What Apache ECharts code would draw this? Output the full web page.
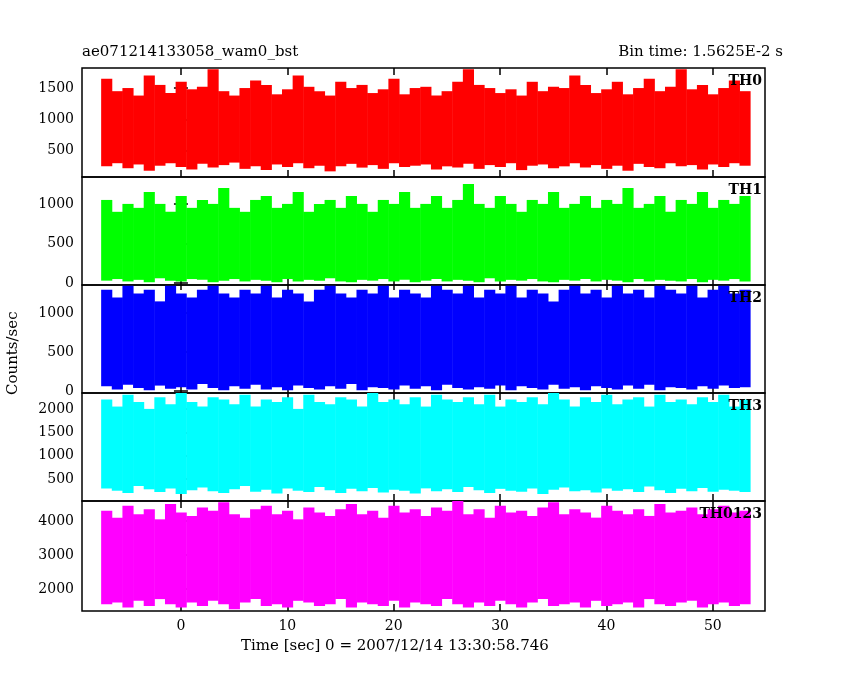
<!DOCTYPE html>
<html><head><meta charset="utf-8">
<script src="https://cdn.jsdelivr.net/npm/echarts@6/dist/echarts.min.js"></script>
<style>html,body{margin:0;background:#fff}#c{width:850px;height:680px}</style>
</head><body><div id="c"></div>
<script>
// 1-second envelope bins (low / high counts per bin), starting at t = -7.5 s
var binStart = -7.5, binSize = 1;
var names = ['TH0','TH1','TH2','TH3','TH0123'];
var colors = ['#ff0000','#00ff00','#0000ff','#00ffff','#ff00ff'];

var th0Hi = [1650,1450,1500,1380,1700,1550,1420,1600,1480,1520,1800,1450,1380,1500,1620,1550,1400,1480,1700,1520,1450,1380,1600,1500,1550,1420,1480,1650,1400,1500,1520,1380,1450,1600,1800,1550,1500,1420,1480,1380,1600,1450,1520,1500,1700,1550,1420,1480,1600,1400,1500,1650,1450,1520,1800,1480,1550,1400,1500,1620,1450];
var th0Lo = [250,300,220,280,180,260,300,240,200,290,230,270,310,210,250,190,280,240,300,220,260,170,250,290,230,270,210,300,240,260,280,200,250,230,290,210,270,240,300,190,260,280,220,250,300,230,270,210,260,180,290,240,220,300,250,270,200,280,240,300,260];
var th1Hi = [1050,900,1000,950,1150,1000,900,1100,950,1050,1000,1200,950,900,1050,1100,950,1000,1150,900,1000,1050,950,1100,1000,900,1050,1000,1150,950,1000,1100,950,1050,1250,1000,950,1100,1000,900,1050,1000,1150,950,1000,1100,950,1050,1000,1200,950,1000,1100,900,1050,1000,1150,950,1050,1000,1100];
var th1Lo = [30,50,20,40,10,60,30,20,50,40,10,30,50,20,40,30,10,50,20,40,30,60,20,10,40,30,50,20,40,10,30,50,20,40,30,10,60,20,40,30,50,20,10,40,30,50,20,40,30,10,50,20,40,30,20,50,10,40,30,50,20];
var th2Hi = [1300,1200,1350,1250,1300,1150,1350,1250,1200,1300,1350,1250,1200,1300,1250,1350,1200,1300,1250,1150,1300,1350,1250,1200,1300,1250,1350,1200,1300,1250,1200,1350,1300,1250,1350,1200,1300,1250,1350,1200,1300,1250,1150,1300,1350,1250,1300,1200,1350,1250,1300,1200,1350,1300,1250,1350,1200,1300,1350,1250,1300];
var th2Lo = [60,20,80,40,10,70,30,50,20,90,40,10,60,30,80,20,50,10,70,40,20,60,30,90,10,50,40,20,70,30,60,10,80,40,20,50,30,70,10,60,40,20,80,30,50,10,60,40,20,70,30,80,10,50,40,20,60,30,70,40,50];
var th3Hi = [2200,2050,2300,2150,2000,2250,2100,2350,2150,2050,2250,2200,2100,2300,2050,2200,2150,2250,2000,2300,2150,2100,2250,2200,2050,2350,2150,2200,2100,2250,2050,2300,2200,2150,2250,2100,2300,2050,2200,2150,2250,2100,2350,2200,2050,2250,2150,2300,2100,2200,2250,2050,2300,2150,2200,2100,2250,2150,2300,2050,2200];
var th3Lo = [300,250,200,350,280,220,300,180,260,320,240,200,280,350,230,270,190,300,250,220,330,260,200,290,240,310,210,270,250,190,300,240,280,220,330,260,200,290,250,230,300,180,270,320,240,260,210,300,250,280,220,340,260,200,290,240,310,230,270,250,220];
var th0123Hi = [4300,4100,4450,4200,4350,4050,4500,4250,4150,4400,4300,4550,4200,4100,4350,4450,4200,4300,4050,4400,4250,4150,4350,4500,4200,4300,4100,4450,4250,4350,4150,4400,4300,4600,4200,4350,4100,4450,4250,4300,4150,4400,4550,4200,4350,4250,4100,4450,4300,4200,4350,4150,4500,4250,4300,4400,4200,4350,4450,4250,4300];
var th0123Lo = [1550,1600,1450,1650,1500,1700,1550,1450,1600,1500,1650,1550,1400,1600,1700,1500,1550,1450,1650,1600,1500,1550,1700,1450,1600,1550,1500,1650,1450,1600,1550,1500,1700,1550,1450,1600,1500,1650,1550,1450,1600,1700,1500,1550,1600,1450,1650,1500,1550,1600,1450,1700,1550,1500,1600,1650,1450,1550,1600,1500,1550];

var lows = [th0Lo, th1Lo, th2Lo, th3Lo, th0123Lo];
var highs = [th0Hi, th1Hi, th2Hi, th3Hi, th0123Hi];
var yMin = [80, -25, -25, 30, 1350];
var yMax = [1820, 1340, 1360, 2340, 4590];
var yTicks = [[500,1000,1500],[0,500,1000],[0,500,1000],[500,1000,1500,2000],[2000,3000,4000]];
var xTicks = [0,10,20,30,40,50];

var tops = [68,177,285,393,501];
var heights = [109,108,108,108,110];
var font = 'DejaVu Serif';

var grid = [], xAxis = [], yAxis = [], series = [], graphic = [];
for (var i = 0; i < 5; i++) {
	grid.push({left:82, right:85, top:tops[i], height:heights[i], show:true, borderColor:'#000', borderWidth:1.5, backgroundColor:'transparent'});
	xAxis.push({
		type:'value', gridIndex:i, min:-9.3, max:54.9,
		axisLine:{show:false}, splitLine:{show:false},
		axisTick:{inside:true, length:7, customValues:xTicks, lineStyle:{color:'#000', width:1.5}},
		axisLabel:{show:i==4, customValues:xTicks, color:'#000', fontFamily:font, fontSize:14, margin:8}
	});
	xAxis.push({
		type:'value', gridIndex:i, position:'top', min:-9.3, max:54.9,
		axisLine:{show:false}, splitLine:{show:false},
		axisTick:{inside:true, length:7, customValues:xTicks, lineStyle:{color:'#000', width:1.5}},
		axisLabel:{show:false}
	});
	yAxis.push({
		type:'value', gridIndex:i, min:yMin[i], max:yMax[i],
		axisLine:{show:false}, splitLine:{show:false},
		axisTick:{inside:true, length:7, customValues:yTicks[i], lineStyle:{color:'#000', width:1.5}},
		axisLabel:{customValues:yTicks[i], formatter:function(v){return String(v);}, color:'#000', fontFamily:font, fontSize:14, margin:8}
	});
	yAxis.push({
		type:'value', gridIndex:i, position:'right', min:yMin[i], max:yMax[i],
		axisLine:{show:false}, splitLine:{show:false},
		axisTick:{inside:true, length:7, customValues:yTicks[i], lineStyle:{color:'#000', width:1.5}},
		axisLabel:{show:false}
	});
	var d = [];
	var n = Math.min(lows[i].length, highs[i].length);
	for (var k = 0; k < n; k++) {
		d.push([binStart + k*binSize, lows[i][k], highs[i][k]]);
	}
	series.push({
		type:'custom', xAxisIndex:2*i, yAxisIndex:2*i, clip:true, data:d, z:1,
		color:colors[i],
		renderItem:(function(c){
			return function(params, api){
				var a = api.coord([api.value(0), api.value(2)]);
				var b = api.coord([api.value(0) + binSize, api.value(1)]);
				return {type:'rect', shape:{x:a[0], y:a[1], width:b[0]-a[0]+0.5, height:b[1]-a[1]}, style:{fill:c}};
			};
		})(colors[i])
	});
	graphic.push({type:'text', z:100, right:88, top:tops[i]+6, style:{text:names[i], fill:'#000', font:'bold 14px ' + font, textAlign:'right'}});
}
graphic.push({type:'text', left:82, top:45, style:{text:'ae071214133058_wam0_bst', fill:'#000', font:'15px ' + font}});
graphic.push({type:'text', right:67, top:45, style:{text:'Bin time: 1.5625E-2 s', fill:'#000', font:'15px ' + font}});
graphic.push({type:'text', left:241, top:639, style:{text:'Time [sec] 0 = 2007/12/14 13:30:58.746', fill:'#000', font:'15px ' + font}});
graphic.push({type:'text', x:6, y:395, rotation:Math.PI/2, style:{text:'Counts/sec', fill:'#000', font:'15px ' + font}});

var chart = echarts.init(document.getElementById('c'));
chart.setOption({animation:false, grid:grid, xAxis:xAxis, yAxis:yAxis, series:series, graphic:graphic});
</script>
</body></html>
